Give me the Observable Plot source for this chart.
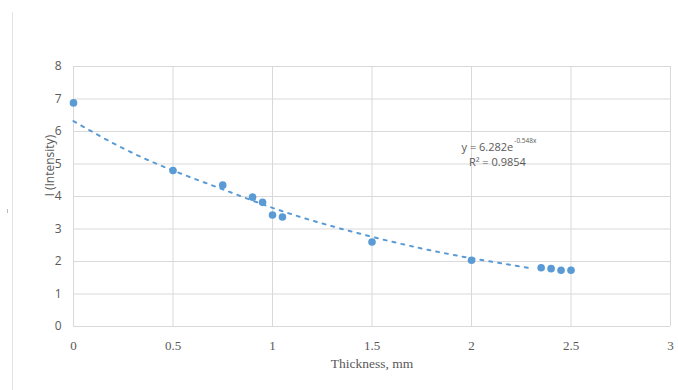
<!DOCTYPE html>
<html>
<head>
<meta charset="utf-8">
<script src="https://cdn.jsdelivr.net/npm/d3@7"></script>
<script src="https://cdn.jsdelivr.net/npm/@observablehq/plot@0.6"></script>
<style>
  html, body { margin: 0; padding: 0; background: #fff; }
  #wrap { position: relative; width: 678px; height: 390px; }
  #edge { position: absolute; left: 12px; top: 12px; width: 1px; height: 378px; background: #e3e3e3; }
  #tick { position: absolute; left: 7px; top: 209px; width: 1px; height: 4px; background: #bbb; }
</style>
</head>
<body>
<div id="wrap"><div id="edge"></div><div id="tick"></div></div>
<script>
// Measured data points
const thickness = [0, 0.5, 0.75, 0.9, 0.95, 1.0, 1.05, 1.5, 2.0, 2.35, 2.4, 2.45, 2.5];
const intensity = [6.88, 4.80, 4.35, 3.98, 3.82, 3.43, 3.37, 2.60, 2.04, 1.81, 1.78, 1.73, 1.73];

// Dotted trendline
const trendX = [0, 0.25, 0.5, 0.75, 1.0, 1.25, 1.5, 1.75, 2.0, 2.3];
const trendY = [6.32, 5.48, 4.80, 4.22, 3.65, 3.17, 2.76, 2.40, 2.10, 1.79];

const xTicks = [0, 0.5, 1, 1.5, 2, 2.5, 3];
const yTicks = [0, 1, 2, 3, 4, 5, 6, 7, 8];

const xTitle = "Thickness, mm";
const yTitle = "I (Intensity)";
const eqMain = "y = 6.282e";
const eqExp = "-0.548x";
const eqR2 = "R² = 0.9854";

const points = thickness.map((t, i) => ({x: t, y: intensity[i]}));
const trend = trendX.map((t, i) => ({x: t, y: trendY[i]}));

const blue = "#5b9bd5";
const grid = "#d9d9d9";
const txt = "#595959";

const chart = Plot.plot({
  width: 678,
  height: 390,
  marginLeft: 73,
  marginRight: 8,
  marginTop: 66,
  marginBottom: 64,
  style: {background: "transparent", overflow: "visible"},
  x: {domain: [0, 3], ticks: xTicks},
  y: {domain: [0, 8], ticks: yTicks},
  marks: [
    Plot.gridX(xTicks, {stroke: grid, strokeOpacity: 1, strokeWidth: 1}),
    Plot.gridY(yTicks, {stroke: grid, strokeOpacity: 1, strokeWidth: 1}),
    Plot.axisX(xTicks, {tickSize: 0, tickPadding: 14, label: null, tickFormat: d => String(d), fontFamily: "Liberation Serif", fontSize: 13, fill: txt}),
    Plot.axisY(yTicks, {tickSize: 0, tickPadding: 12, label: null, tickFormat: d => String(d), fontFamily: "Open Sans", fontSize: 12, fill: txt}),
    Plot.line(trend, {x: "x", y: "y", stroke: blue, strokeWidth: 2, strokeDasharray: "3 6", curve: "natural"}),
    Plot.dot(points, {x: "x", y: "y", r: 3.8, fill: blue, stroke: "none"}),
    Plot.text([xTitle], {frameAnchor: "bottom", dy: 41, fontFamily: "Liberation Serif", fontSize: 13.5, fill: txt}),
    Plot.text([yTitle], {frameAnchor: "left", dx: -23, rotate: -90, fontFamily: "Open Sans", fontSize: 12, fill: txt}),
    Plot.text([eqMain], {x: 2.21, y: 5.5, textAnchor: "end", fontFamily: "Open Sans", fontSize: 11, fill: txt}),
    Plot.text([eqExp], {x: 2.215, y: 5.72, textAnchor: "start", fontFamily: "Open Sans", fontSize: 6.5, fill: txt}),
    Plot.text([eqR2], {x: 2.13, y: 5.04, textAnchor: "middle", fontFamily: "Open Sans", fontSize: 11, fill: txt})
  ]
});
document.getElementById("wrap").appendChild(chart);
chart.style.position = "absolute";
chart.style.left = "0px";
chart.style.top = "0px";
</script>
</body>
</html>
